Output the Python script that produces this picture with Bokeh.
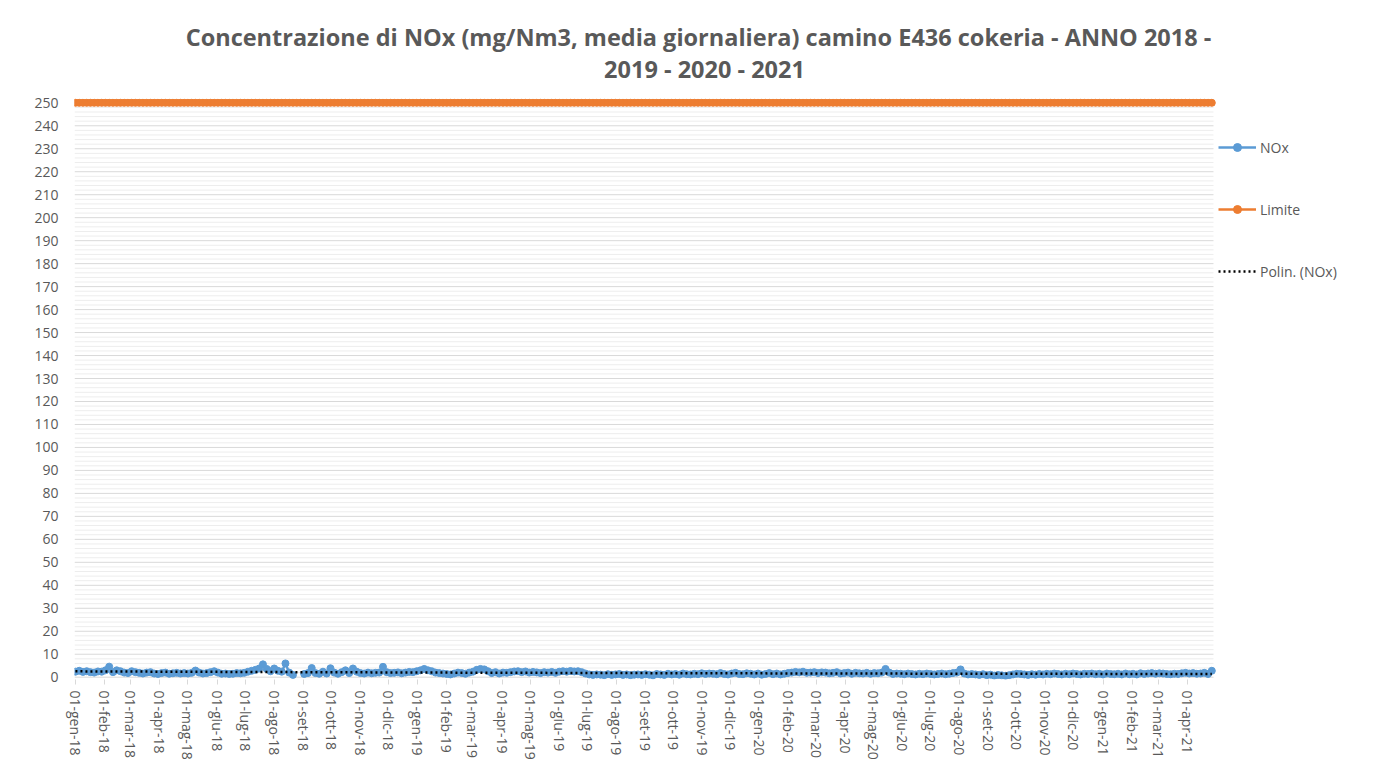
import math
import numpy as np
import pandas as pd
from bokeh.plotting import figure
from bokeh.models import (FixedTicker, Legend, LegendItem, ColumnDataSource,
                          Range1d, Label)
from bokeh.embed import file_html
from bokeh.resources import INLINE

# ---------------- data ----------------
TITLE_LINE1 = "Concentrazione di NOx (mg/Nm3, media giornaliera) camino E436 cokeria - ANNO 2018 -"
TITLE_LINE2 = "2019 - 2020 - 2021"

START_DATE = "2018-01-01"
STEP_DAYS = 4          # one reading every 4 days
nan = float("nan")

NOX = [
    2.4, 2.8, 2.3, 2.6, 2.2, 2.0, 2.5, 2.4, 3.0, 4.6,
    2.2, 3.0, 2.6, 2.0, 1.8, 2.6, 2.2, 1.9, 1.6, 2.0,
    2.2, 1.6, 1.4, 1.8, 2.0, 1.5, 1.7, 1.9, 1.6, 1.8,
    1.6, 1.9, 2.9, 2.0, 1.6, 1.8, 2.2, 2.6, 2.0, 1.5,
    1.6, 1.4, 1.5, 1.8, 1.7, 1.9, 2.4, 2.8, 3.2, 3.8,
    5.6, 3.6, 2.6, 3.8, 2.8, 2.4, 6.0, 2.0, 1.0, nan,
    nan, 1.4, 1.8, 4.0, 1.8, 1.5, 2.4, 1.6, 3.9, 2.0,
    1.5, 2.2, 3.0, 1.8, 3.8, 2.4, 1.8, 1.6, 2.0, 1.7,
    1.9, 2.0, 4.5, 2.2, 1.8, 1.9, 2.1, 1.7, 2.0, 2.3,
    2.2, 2.6, 3.0, 3.6, 3.0, 2.6, 2.0, 1.8, 1.6, 1.4,
    1.2, 1.6, 2.0, 1.8, 1.5, 2.0, 2.4, 3.2, 3.6, 3.4,
    2.6, 1.8, 2.2, 1.6, 2.0, 1.9, 2.2, 2.5, 2.6, 2.2,
    2.5, 2.0, 2.3, 2.1, 1.8, 2.2, 2.0, 2.3, 1.9, 2.4,
    2.6, 2.4, 2.7, 2.5, 2.6, 2.2, 1.6, 1.2, 1.0, 1.2,
    1.1, 0.9, 1.3, 1.0, 1.2, 1.4, 1.0, 1.2, 0.9, 1.1,
    1.2, 1.0, 1.3, 1.1, 0.8, 1.4, 1.2, 1.0, 1.5, 1.2,
    1.4, 1.1, 1.6, 1.3, 1.2, 1.5, 1.3, 1.7, 1.4, 1.6,
    1.5, 1.3, 1.8, 1.4, 1.2, 1.6, 1.9, 1.4, 1.3, 1.7,
    1.5, 1.2, 1.6, 1.1, 1.4, 1.8, 1.3, 1.6, 1.2, 1.5,
    1.8, 2.0, 2.3, 2.1, 2.4, 1.9, 2.0, 2.2, 1.8, 2.1,
    2.0, 1.7, 1.9, 2.2, 1.6, 1.8, 2.0, 1.5, 1.9, 1.7,
    1.6, 1.9, 1.5, 1.8, 1.7, 2.0, 3.6, 2.0, 1.4, 1.6,
    1.5, 1.3, 1.6, 1.4, 1.2, 1.5, 1.3, 1.6, 1.4, 1.2,
    1.4, 1.6, 1.3, 1.5, 1.8, 2.0, 3.4, 1.6, 1.2, 1.4,
    1.2, 1.0, 1.3, 0.9, 1.1, 0.7, 1.0, 0.8, 0.6, 0.9,
    1.2, 1.5, 1.4, 1.2, 1.0, 1.3, 1.1, 1.4, 1.2, 1.5,
    1.3, 1.6, 1.4, 1.2, 1.5, 1.3, 1.6, 1.4, 1.2, 1.5,
    1.4, 1.6, 1.3, 1.5, 1.2, 1.6, 1.4, 1.3, 1.5, 1.2,
    1.6, 1.3, 1.5, 1.2, 1.7, 1.4, 1.6, 1.8, 1.5, 1.7,
    1.6, 1.4, 1.3, 1.5, 1.4, 1.7, 1.9, 1.6, 1.8, 1.5,
    1.6, 1.9, 1.4, 2.8,
]
LIMIT = 250
TREND_ORDER = 2

MONTHS_IT = ["gen", "feb", "mar", "apr", "mag", "giu",
             "lug", "ago", "set", "ott", "nov", "dic"]
TICK_FIRST_MONTH = "2018-01-01"
TICK_LAST_MONTH = "2021-04-01"
Y_TICKS = list(range(0, 251, 10))
Y_MINOR = [v for v in range(0, 251, 2) if v % 10 != 0]

# ---------------- derived ----------------
start = pd.Timestamp(START_DATE)
days = np.arange(len(NOX)) * STEP_DAYS
nox = np.array(NOX, dtype=float)
mask = ~np.isnan(nox)
coef = np.polyfit(days[mask], nox[mask], TREND_ORDER)
trend = np.polyval(coef, days)
limit = np.full(len(days), float(LIMIT))

months = pd.date_range(TICK_FIRST_MONTH, TICK_LAST_MONTH, freq="MS")
tick_days = [int((m - start).days) for m in months]
tick_labels = {d: f"01-{MONTHS_IT[m.month - 1]}-{m.year % 100:02d}"
               for d, m in zip(tick_days, months)}

src = ColumnDataSource(dict(x=days, nox=nox, limit=limit, trend=trend))

# ---------------- layout constants (pixels / axis extents) ----------------
FONT = "Open Sans"
GREY = "#595959"
BLUE = "#5B9BD5"
ORANGE = "#ED7D31"
W, H = 1380, 763
LEFT, BOTTOM = 74, 84
PX_PER_DAY = 0.9376
PX_PER_UNIT = 2.2976
X0 = -1.0
Y0 = -1.0
X1 = X0 + (W - LEFT) / PX_PER_DAY
Y1 = Y0 + (H - BOTTOM) / PX_PER_UNIT
PLOT_X_END = 1213.8      # right edge of the chart's plot area (in days)

p = figure(width=W, height=H, output_backend="svg", toolbar_location=None,
           x_range=Range1d(X0, X1), y_range=Range1d(Y0, Y1),
           min_border_left=LEFT, min_border_right=0, min_border_top=0,
           min_border_bottom=BOTTOM, outline_line_color=None,
           background_fill_color="white", border_fill_color="white")

# horizontal gridlines limited to the plot area
p.segment(x0=X0, x1=PLOT_X_END, y0=Y_MINOR, y1=Y_MINOR,
          line_color="#ededed", line_width=1)
p.segment(x0=X0, x1=PLOT_X_END, y0=Y_TICKS, y1=Y_TICKS,
          line_color="#d9d9d9", line_width=1)
p.xgrid.grid_line_color = None
p.ygrid.grid_line_color = None

# y axis
p.yaxis.ticker = FixedTicker(ticks=Y_TICKS, minor_ticks=[])
p.yaxis.axis_line_color = None
p.yaxis.major_tick_line_color = None
p.yaxis.major_tick_out = 0
p.yaxis.major_tick_in = 0
p.yaxis.minor_tick_line_color = None
p.yaxis.minor_tick_out = 0
p.yaxis.major_label_text_font = FONT
p.yaxis.major_label_text_font_size = "14px"
p.yaxis.major_label_text_color = GREY
p.yaxis.major_label_standoff = 16

# x axis
p.xaxis.ticker = FixedTicker(ticks=tick_days, minor_ticks=[])
p.xaxis.major_label_overrides = tick_labels
p.xaxis.major_label_orientation = -math.pi / 2
p.xaxis.major_label_text_font = FONT
p.xaxis.major_label_text_font_size = "14px"
p.xaxis.major_label_text_color = GREY
p.xaxis.major_label_standoff = 6
p.xaxis.axis_line_color = None
p.xaxis.major_tick_line_color = "#d9d9d9"
p.xaxis.major_tick_in = 0
p.xaxis.major_tick_out = 5
p.xaxis.minor_tick_line_color = None
p.xaxis.minor_tick_out = 0

# series
nox_line = p.line("x", "nox", source=src, color=BLUE, line_width=2.5)
nox_dot = p.scatter("x", "nox", source=src, color=BLUE, size=7)
lim_band = p.line("x", "limit", source=src, color=ORANGE, line_width=6.5,
                  line_cap="round")
lim_line = p.line("x", "limit", source=src, color=ORANGE, line_width=2.5)
lim_dot = p.scatter("x", "limit", source=src, color=ORANGE, size=7)
trend_line = p.line("x", "trend", source=src, color="black", line_width=2.5,
                    line_dash="2 3")

legend = Legend(items=[
    LegendItem(label="NOx", renderers=[nox_line, nox_dot]),
    LegendItem(label="Limite", renderers=[lim_line, lim_dot]),
    LegendItem(label="Polin. (NOx)", renderers=[trend_line]),
], location=(1144, 398), orientation="vertical", glyph_width=38,
    glyph_height=20, spacing=42, label_standoff=4, padding=0, margin=0,
    border_line_color=None, background_fill_alpha=0,
    label_text_font=FONT, label_text_font_size="14px", label_text_color=GREY)
p.add_layout(legend)

# title: two centred lines (screen offsets from the plot frame's lower-left)
for txt, xx, yy in [(TITLE_LINE1, 624, 643), (TITLE_LINE2, 630, 611)]:
    p.add_layout(Label(x=xx, y=yy, x_units="screen", y_units="screen",
                       text=txt, text_align="center", text_baseline="middle",
                       text_font=FONT, text_font_size="23.5px",
                       text_font_style="bold", text_color=GREY))

open("out.html", "w").write(file_html(p, INLINE))
